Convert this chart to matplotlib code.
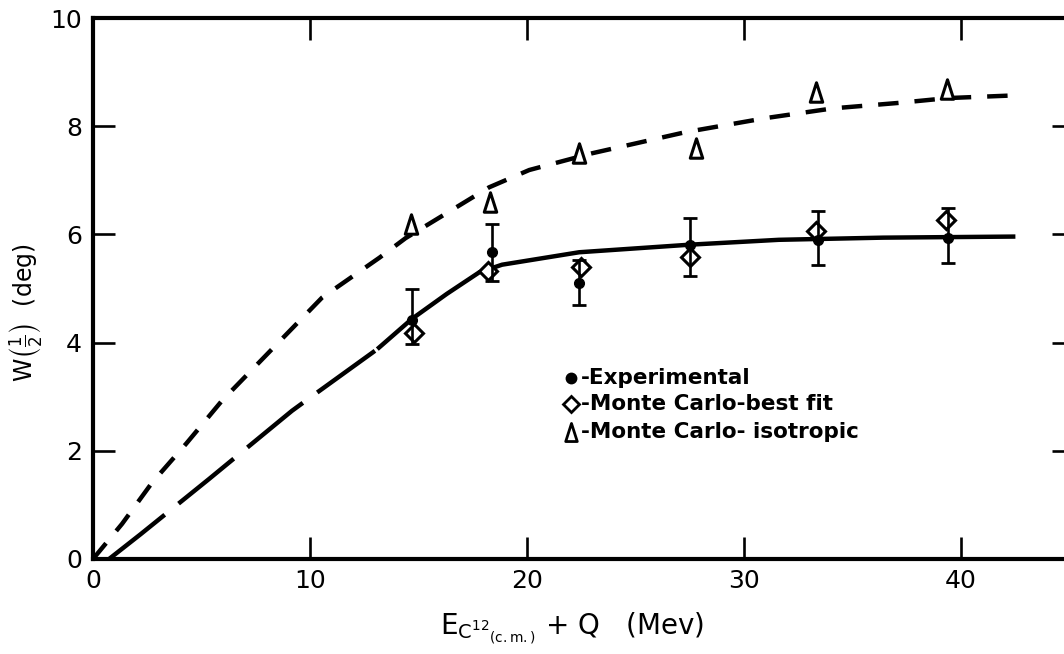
import matplotlib
matplotlib.use("Agg")
import matplotlib.pyplot as plt
from matplotlib.path import Path

# ---------------- data ----------------
exp_energy = [14.7, 18.4, 22.4, 27.5, 33.4, 39.4]
exp_w = [4.41, 5.67, 5.11, 5.81, 5.89, 5.93]
exp_err_low = [0.43, 0.54, 0.42, 0.57, 0.45, 0.45]
exp_err_high = [0.59, 0.53, 0.42, 0.49, 0.54, 0.55]

mc_fit_energy = [14.8, 18.2, 22.5, 27.5, 33.3, 39.3]
mc_fit_w = [4.17, 5.33, 5.39, 5.59, 6.07, 6.26]

mc_iso_energy = [14.65, 18.3, 22.4, 27.8, 33.3, 39.35]
mc_iso_w = [6.2, 6.59, 7.5, 7.59, 8.63, 8.69]

# isotropic (short dashed) curve
iso_curve_x = [0.0, 1.34, 2.72, 4.29, 5.95, 10.55, 13.2, 14.4, 18.25, 20.1,
               23.0, 27.3, 31.0, 34.1, 37.1, 39.4, 42.5]
iso_curve_y = [0.0, 0.65, 1.41, 2.13, 2.93, 4.83, 5.57, 5.93, 6.87, 7.19,
               7.5, 7.89, 8.15, 8.33, 8.43, 8.52, 8.57]

# best fit curve: long-dashed part then solid part
fit_dash_x = [0.74, 2.2, 5.35, 9.17, 9.82, 12.86, 13.1]
fit_dash_y = [0.0, 0.46, 1.48, 2.74, 2.93, 3.81, 3.88]
fit_solid_x = [13.1, 14.7, 16.3, 17.8, 18.85, 22.4, 27.5, 31.6, 36.4, 42.5]
fit_solid_y = [3.88, 4.44, 4.9, 5.3, 5.44, 5.67, 5.81, 5.9, 5.94, 5.96]

x_ticks = [0, 10, 20, 30, 40]
y_ticks = [0, 2, 4, 6, 8, 10]

legend_labels = ["-Experimental", "-Monte Carlo-best fit", "-Monte Carlo- isotropic"]

# ---------------- figure ----------------
W, H = 1064, 654
fig = plt.figure(figsize=(W / 100, H / 100), dpi=100)
ax_left, ax_right_px = 93, 1074
ax_top, ax_bottom = 18, 559
ax = fig.add_axes([ax_left / W, (H - ax_bottom) / H,
                   (ax_right_px - ax_left) / W, (ax_bottom - ax_top) / H])
ax.set_xlim(0, 45.2)
ax.set_ylim(0, 10)

lw = 3.2
ax.plot(iso_curve_x, iso_curve_y, color="black", lw=lw, dashes=(4.6, 3.6),
        solid_capstyle="butt", dash_capstyle="butt")
ax.plot(fit_dash_x, fit_dash_y, color="black", lw=lw, dashes=(16, 4.0),
        dash_capstyle="butt")
ax.plot(fit_solid_x, fit_solid_y, color="black", lw=lw, solid_capstyle="butt")

ax.errorbar(exp_energy, exp_w, yerr=[exp_err_low, exp_err_high], fmt="o",
            color="black", ms=7, elinewidth=1.9, capsize=4.8, capthick=2.0,
            zorder=5)
ax.plot(mc_fit_energy, mc_fit_w, linestyle="none", marker="D", ms=9,
        mfc="white", mec="black", mew=2.2, zorder=4)

tri = Path([(-0.32, -0.5), (0.32, -0.5), (0.0, 0.5), (-0.32, -0.5)],
           [Path.MOVETO, Path.LINETO, Path.LINETO, Path.CLOSEPOLY])
ax.plot(mc_iso_energy, mc_iso_w, linestyle="none", marker=tri, ms=14,
        mfc="white", mec="black", mew=2.2, zorder=4)

# ---------------- axes styling ----------------
for sp in ax.spines.values():
    sp.set_linewidth(3.0)
ax.set_xticks(x_ticks)
ax.set_yticks(y_ticks)
ax.tick_params(axis="both", which="major", direction="in", length=16, width=1.9,
               top=True, right=True, labelsize=18)
ax.tick_params(axis="x", pad=7)
ax.tick_params(axis="y", pad=8)

# key (hand-lettered legend inside the plot)
key_x = (565 - ax_left) / (ax_right_px - ax_left)
key_rows_px = [378, 404, 432]
key_markers = ["o", "D", tri]
key_ms = [6.5, 8.5, 13]
for lab, ypx, mk, ms in zip(legend_labels, key_rows_px, key_markers, key_ms):
    yfrac = (ax_bottom - ypx) / (ax_bottom - ax_top)
    ax.plot([key_x + 0.006], [yfrac], transform=ax.transAxes, marker=mk, ms=ms,
            mfc="black" if mk == "o" else "white", mec="black", mew=2.0,
            linestyle="none", clip_on=False)
    ax.text(key_x + 0.016, yfrac, lab, transform=ax.transAxes, fontsize=15.5,
            fontweight="bold", va="center", ha="left")

# axis labels
fig.text(25 / W, 1 - 313 / H, r"W$\mathregular{\left(\frac{1}{2}\right)}$  (deg)",
         rotation=90, fontsize=17, ha="center", va="center")
fig.text(572 / W, 1 - 634 / H,
         r"$\mathregular{E_{C^{12}{}_{(c.m.)}}}$ + Q   (Mev)",
         fontsize=20, ha="center", va="baseline")

fig.savefig("out.png", dpi=100)
